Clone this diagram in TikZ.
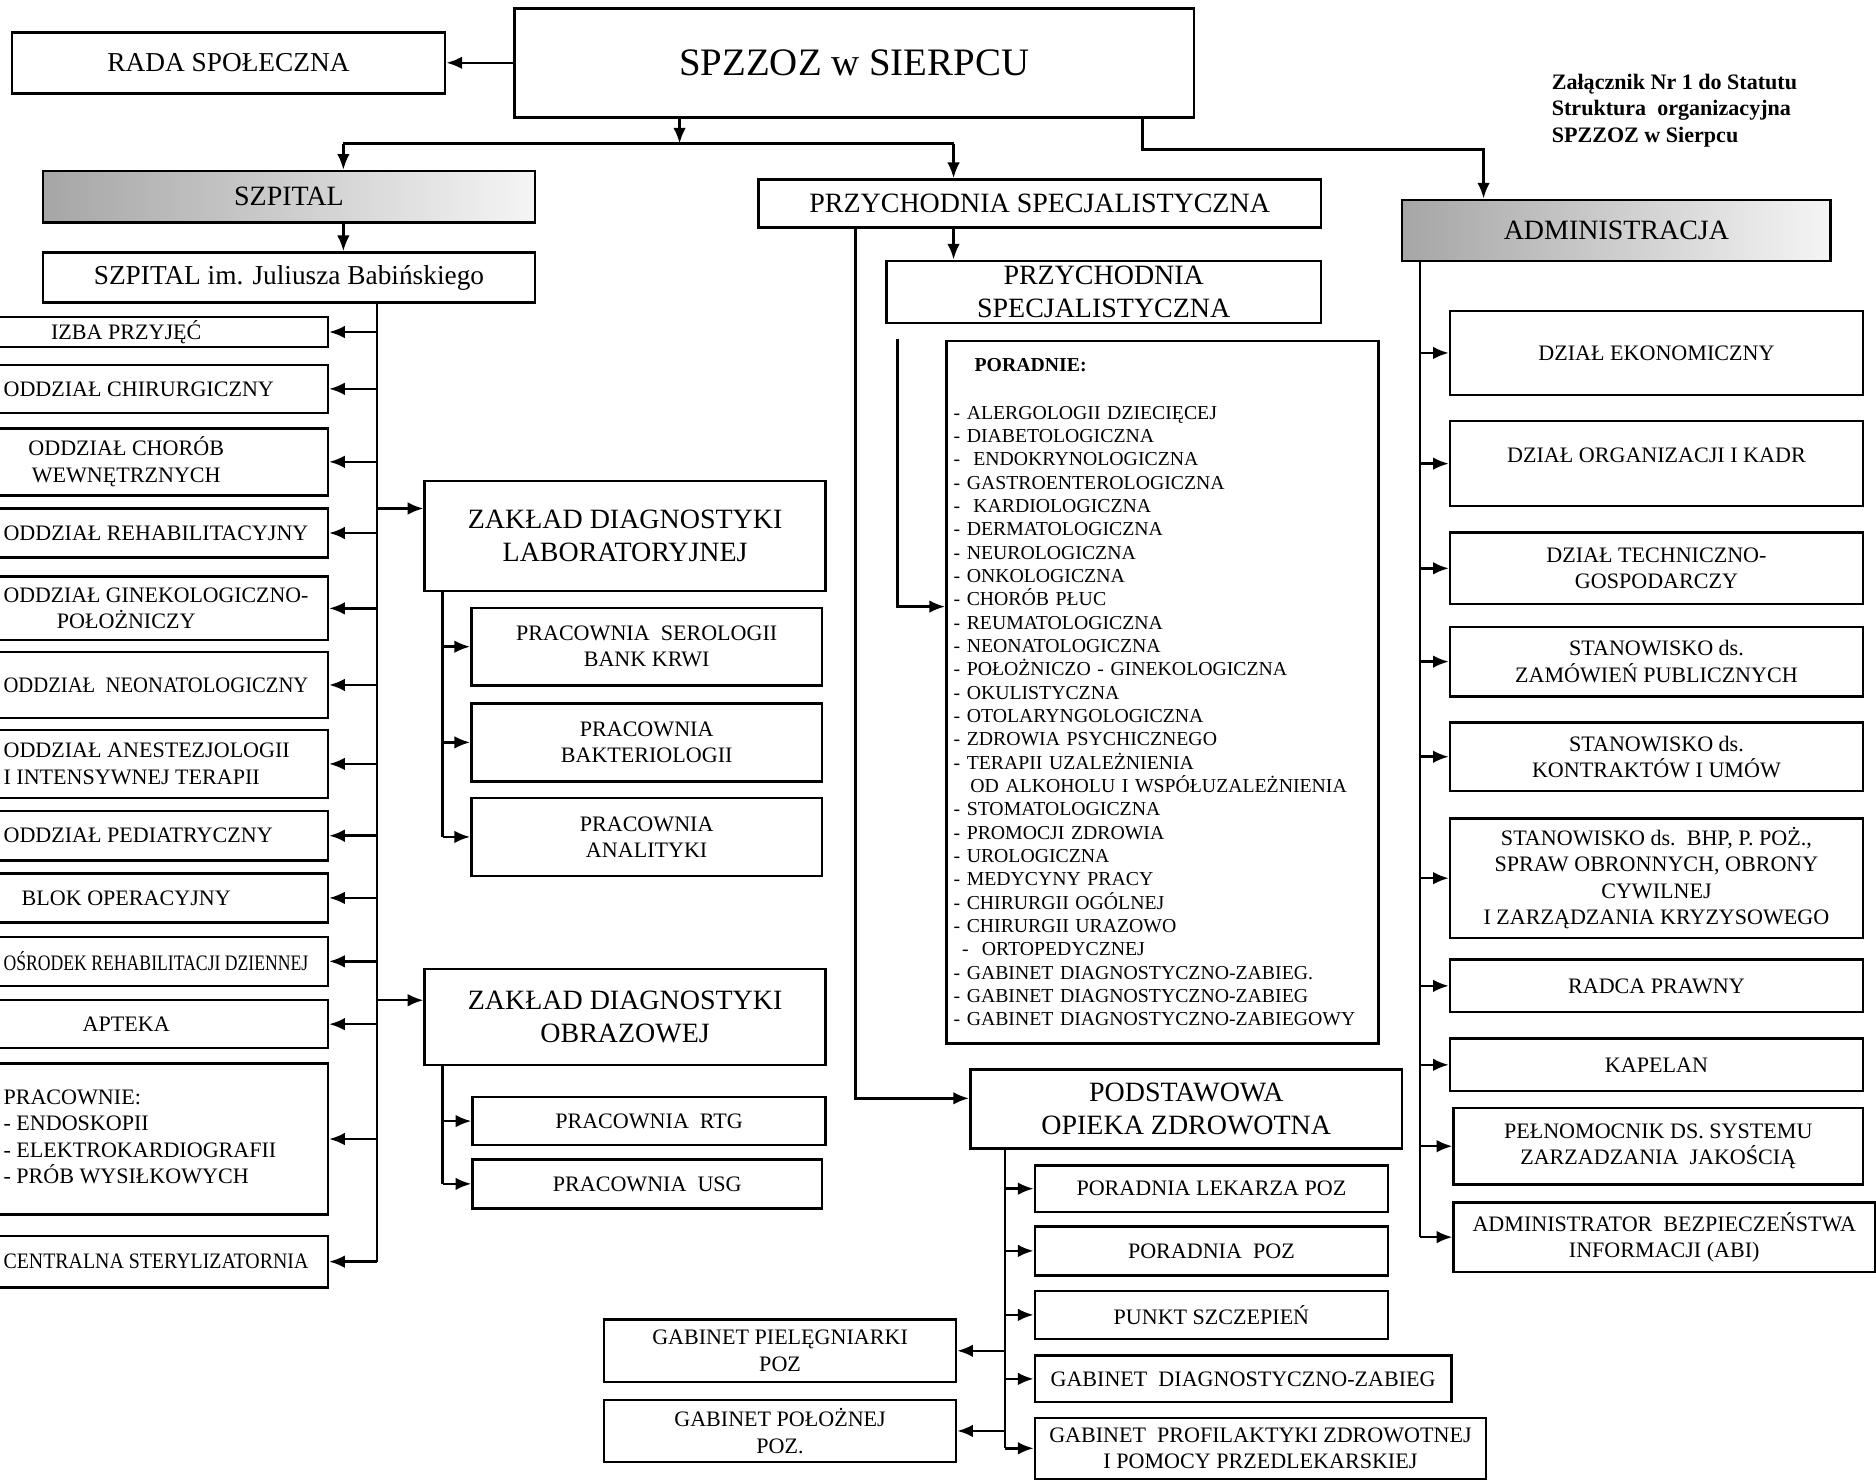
\documentclass[tikz,border=0pt]{standalone}
\usepackage{fontspec}
\setmainfont{Liberation Serif}
\usetikzlibrary{arrows.meta}
\newcommand\orgboxfont{\fontsize{10.5}{12.5}\selectfont}
\newcommand\orgbigfont{\fontsize{13.3}{15.5}\selectfont}
\newcommand\orglistfont{\fontsize{9.4}{11.1}\selectfont}
\newsavebox\lcbox
\newcommand\lc[1]{\sbox\lcbox{#1}%
  \ifdim\wd\lcbox>145pt\sbox\lcbox{\resizebox{145pt}{\height}{#1}}\fi
  \ifdim\wd\lcbox>116.7pt\hspace*{\dimexpr\wd\lcbox-116.7pt\relax}\fi
  \usebox\lcbox}
\begin{document}
\begin{tikzpicture}[x=0.02cm, y=-0.02cm, line width=1.2pt,
    >={Latex[length=7.5pt,width=6pt]},
    rect/.style n args={4}{minimum width={((#3)-(#1))*0.02cm},
      minimum height={((#4)-(#2))*0.02cm}, at={({((#1)+(#3))/2},{((#2)+(#4))/2})}},
    box/.style={draw, inner sep=0pt, align=center, font=\orgboxfont},
    bigbox/.style={box, font=\orgbigfont},
    greybox/.style={bigbox, left color=black!35, right color=black!4}]
  \useasboundingbox (0,0) rectangle (1568,1238);
  \clip (0,0) rectangle (1568,1238);

  \node[box, rect={430}{7}{998}{98}, font=\fontsize{18.5}{22}\selectfont] (spzzoz) {SPZZOZ w SIERPCU};
  \node[box, rect={10}{27}{372}{78}, font=\fontsize{13}{15}\selectfont] (rada) {RADA SPOŁECZNA};
  \node[anchor=north west, align=left, inner sep=0pt, font=\bfseries\fontsize{10.5}{12.5}\selectfont] (zal)
    at (1296,61) {Załącznik Nr 1 do Statutu\\Struktura\ \ organizacyjna\\SPZZOZ w Sierpcu};

  \node[greybox, rect={36}{143}{447}{186}] (szpital) {SZPITAL};
  \node[box, rect={36}{211}{447}{253}, font=\fontsize{13}{15}\selectfont] (szpim) {SZPITAL im. Juliusza Babińskiego};
  \node[bigbox, rect={634}{150}{1104}{190}] (przych) {PRZYCHODNIA SPECJALISTYCZNA};
  \node[bigbox, rect={741}{218}{1104}{270}, font=\fontsize{13.3}{16}\selectfont] (przych2) {PRZYCHODNIA\\SPECJALISTYCZNA};
  \node[greybox, rect={1172}{167}{1530}{218}] (admin) {ADMINISTRACJA};

  \node[box, rect={-63}{265}{274}{290}] (izba) {\lc{IZBA PRZYJĘĆ}};
  \node[box, rect={-63}{305}{274}{345}] (chir) {\lc{ODDZIAŁ CHIRURGICZNY}};
  \node[box, rect={-63}{358}{274}{414}] (wewn) {\lc{ODDZIAŁ CHORÓB}\\\lc{WEWNĘTRZNYCH}};
  \node[box, rect={-63}{425}{274}{466}] (rehab) {\lc{ODDZIAŁ REHABILITACYJNY}};
  \node[box, rect={-63}{482}{274}{535}] (gin) {\lc{ODDZIAŁ GINEKOLOGICZNO-}\\\lc{POŁOŻNICZY}};
  \node[box, rect={-63}{545}{274}{600}] (neo) {\lc{ODDZIAŁ\ \ NEONATOLOGICZNY}};
  \node[box, rect={-63}{610}{274}{667}] (anest) {\lc{ODDZIAŁ ANESTEZJOLOGII}\\\lc{I INTENSYWNEJ TERAPII}};
  \node[box, rect={-63}{678}{274}{719}] (ped) {\lc{ODDZIAŁ PEDIATRYCZNY}};
  \node[box, rect={-63}{730}{274}{771}] (blok) {\lc{BLOK OPERACYJNY}};
  \node[box, rect={-63}{783}{274}{824}] (osrodek) {\lc{OŚRODEK REHABILITACJI DZIENNEJ}};
  \node[box, rect={-63}{836}{274}{876}] (apteka) {\lc{APTEKA}};
  \node[box, rect={-63}{889}{274}{1015}] (pracownie)
    {\lc{\begin{tabular}{@{}l@{}}PRACOWNIE:\\- ENDOSKOPII\\- ELEKTROKARDIOGRAFII\\- PRÓB WYSIŁKOWYCH\end{tabular}}};
  \node[box, rect={-63}{1033}{274}{1076}] (steryl) {\lc{CENTRALNA STERYLIZATORNIA}};

  \node[bigbox, rect={355}{402}{690}{494}] (zdl) {ZAKŁAD DIAGNOSTYKI\\LABORATORYJNEJ};
  \node[box, rect={394}{508}{687}{573}] (sero) {PRACOWNIA\ \ SEROLOGII\\BANK KRWI};
  \node[box, rect={394}{588}{687}{653}] (bakt) {PRACOWNIA\\BAKTERIOLOGII};
  \node[box, rect={394}{667}{687}{732}] (anal) {PRACOWNIA\\ANALITYKI};
  \node[bigbox, rect={355}{810}{690}{890}] (zdo) {ZAKŁAD DIAGNOSTYKI\\OBRAZOWEJ};
  \node[box, rect={395}{917}{690}{957}] (rtg) {PRACOWNIA\ \ RTG};
  \node[box, rect={395}{969}{687}{1010}] (usg) {PRACOWNIA\ \ USG};

  \node[box, rect={791}{285}{1152}{872}, text width=6.98cm, align=left, font=\orglistfont] (poradnie)
    {\textbf{\hspace*{10pt}PORADNIE:}\\[11.7pt]
     - ALERGOLOGII DZIECIĘCEJ\\
     - DIABETOLOGICZNA\\
     -\ \ ENDOKRYNOLOGICZNA\\
     - GASTROENTEROLOGICZNA\\
     -\ \ KARDIOLOGICZNA\\
     - DERMATOLOGICZNA\\
     - NEUROLOGICZNA\\
     - ONKOLOGICZNA\\
     - CHORÓB PŁUC\\
     - REUMATOLOGICZNA\\
     - NEONATOLOGICZNA\\
     - POŁOŻNICZO - GINEKOLOGICZNA\\
     - OKULISTYCZNA\\
     - OTOLARYNGOLOGICZNA\\
     - ZDROWIA PSYCHICZNEGO\\
     - TERAPII UZALEŻNIENIA\\
     \hspace*{8pt}OD ALKOHOLU I WSPÓŁUZALEŻNIENIA\\
     - STOMATOLOGICZNA\\
     - PROMOCJI ZDROWIA\\
     - UROLOGICZNA\\
     - MEDYCYNY PRACY\\
     - CHIRURGII OGÓLNEJ\\
     - CHIRURGII URAZOWO\\
     \hspace*{4pt}-\ \ ORTOPEDYCZNEJ\\
     - GABINET DIAGNOSTYCZNO-ZABIEG.\\
     - GABINET DIAGNOSTYCZNO-ZABIEG\\
     - GABINET DIAGNOSTYCZNO-ZABIEGOWY};

  \node[bigbox, rect={811}{894}{1172}{960}] (poz) {PODSTAWOWA\\OPIEKA ZDROWOTNA};
  \node[box, rect={865}{974}{1160}{1013}] (lek) {PORADNIA LEKARZA POZ};
  \node[box, rect={865}{1025}{1160}{1066}] (ppoz) {PORADNIA\ \ POZ};
  \node[box, rect={865}{1079}{1160}{1119}] (szczep) {PUNKT SZCZEPIEŃ};
  \node[box, rect={865}{1133}{1213}{1172}] (gdz) {GABINET\ \ DIAGNOSTYCZNO-ZABIEG};
  \node[box, rect={865}{1185}{1242}{1236}] (gprof) {GABINET\ \ PROFILAKTYKI ZDROWOTNEJ\\I POMOCY PRZEDLEKARSKIEJ};
  \node[box, rect={505}{1103}{799}{1155}] (piel) {GABINET PIELĘGNIARKI\\POZ};
  \node[box, rect={505}{1170}{799}{1222}] (pol) {GABINET POŁOŻNEJ\\POZ.};

  \node[box, rect={1212}{260}{1557}{330}] (ekon) {DZIAŁ EKONOMICZNY};
  \node[box, rect={1212}{352}{1557}{423}] (kadr) {DZIAŁ ORGANIZACJI I KADR\\[-4.5pt]};
  \node[box, rect={1212}{445}{1557}{505}] (tech) {DZIAŁ TECHNICZNO-\\GOSPODARCZY};
  \node[box, rect={1212}{524}{1557}{582}] (zam) {STANOWISKO ds.\\ZAMÓWIEŃ PUBLICZNYCH};
  \node[box, rect={1212}{604}{1557}{661}] (kontr) {STANOWISKO ds.\\KONTRAKTÓW I UMÓW};
  \node[box, rect={1212}{684}{1557}{784}] (bhp) {STANOWISKO ds.\ \ BHP, P. POŻ.,\\SPRAW OBRONNYCH, OBRONY\\CYWILNEJ\\I ZARZĄDZANIA KRYZYSOWEGO};
  \node[box, rect={1212}{802}{1557}{846}] (radca) {RADCA PRAWNY};
  \node[box, rect={1212}{868}{1557}{912}] (kapelan) {KAPELAN};
  \node[box, rect={1215}{926}{1557}{990}] (peln) {PEŁNOMOCNIK DS. SYSTEMU\\ZARZADZANIA\ \ JAKOŚCIĄ};
  \node[box, rect={1215}{1005}{1567}{1063}] (abi) {ADMINISTRATOR\ \ BEZPIECZEŃSTWA\\INFORMACJI (ABI)};

  \coordinate (j1) at (568,120);
  \coordinate (j2) at (287,120);
  \coordinate (j3) at (797,120);
  \coordinate (j4) at (955,125);
  \coordinate (j5) at (1240,125);
  \coordinate (t1) at (315,253);
  \coordinate (t2) at (370,494);
  \coordinate (t3) at (370,890);
  \coordinate (t4) at (840,960);
  \coordinate (t5) at (1187,218);
  \coordinate (k1) at (715,918);
  \coordinate (k2) at (750,283);
  \coordinate (k3) at (750,507);
  \coordinate (zl) at ([yshift=0.46cm]zdl.west);
  \coordinate (zo) at ([yshift=0.28cm]zdo.west);

  \draw (j2) -- (j3);
  \draw (t1) -- (t1 |- steryl.east);
  \draw (t2) -- (t2 |- anal.west);
  \draw (t3) -- (t3 |- usg.west);
  \draw (t4) -- (t4 |- gprof.west);
  \draw (t5) -- (t5 |- abi.west);
  \begin{scope}[->]
    \draw (spzzoz.west) to (rada.east);
    \draw (j1 |- spzzoz.south) to (j1);
    \draw (j2) to (j2 |- szpital.north);
    \draw (j3) to (j3 |- przych.north);
    \draw (j4 |- spzzoz.south) -- (j4) -- (j5) -- (j5 |- admin.north);
    \draw (j2 |- szpital.south) to (j2 |- szpim.north);
    \draw (j3 |- przych.south) to (j3 |- przych2.north);
    \draw (k1 |- przych.south) -- (k1) -- (k1 -| poz.west);
    \draw (k2) -- (k3) -- (k3 -| poradnie.west);
    \draw (t1 |- izba.east) to (izba.east);
    \draw (t1 |- chir.east) to (chir.east);
    \draw (t1 |- wewn.east) to (wewn.east);
    \draw (t1 |- rehab.east) to (rehab.east);
    \draw (t1 |- gin.east) to (gin.east);
    \draw (t1 |- neo.east) to (neo.east);
    \draw (t1 |- anest.east) to (anest.east);
    \draw (t1 |- ped.east) to (ped.east);
    \draw (t1 |- blok.east) to (blok.east);
    \draw (t1 |- osrodek.east) to (osrodek.east);
    \draw (t1 |- apteka.east) to (apteka.east);
    \draw (t1 |- pracownie.east) to (pracownie.east);
    \draw (t1 |- steryl.east) to (steryl.east);
    \draw (t1 |- zl) to (zl);
    \draw (t1 |- zo) to (zo);
    \draw (t2 |- sero.west) to (sero.west);
    \draw (t2 |- bakt.west) to (bakt.west);
    \draw (t2 |- anal.west) to (anal.west);
    \draw (t3 |- rtg.west) to (rtg.west);
    \draw (t3 |- usg.west) to (usg.west);
    \draw (t4 |- lek.west) to (lek.west);
    \draw (t4 |- ppoz.west) to (ppoz.west);
    \draw (t4 |- szczep.west) to (szczep.west);
    \draw (t4 |- gdz.west) to (gdz.west);
    \draw (t4 |- gprof.west) to (gprof.west);
    \draw (t4 |- piel.east) to (piel.east);
    \draw (t4 |- pol.east) to (pol.east);
    \draw (t5 |- ekon.west) to (ekon.west);
    \draw (t5 |- kadr.west) to (kadr.west);
    \draw (t5 |- tech.west) to (tech.west);
    \draw (t5 |- zam.west) to (zam.west);
    \draw (t5 |- kontr.west) to (kontr.west);
    \draw (t5 |- bhp.west) to (bhp.west);
    \draw (t5 |- radca.west) to (radca.west);
    \draw (t5 |- kapelan.west) to (kapelan.west);
    \draw (t5 |- peln.west) to (peln.west);
    \draw (t5 |- abi.west) to (abi.west);
  \end{scope}
\end{tikzpicture}
\end{document}
